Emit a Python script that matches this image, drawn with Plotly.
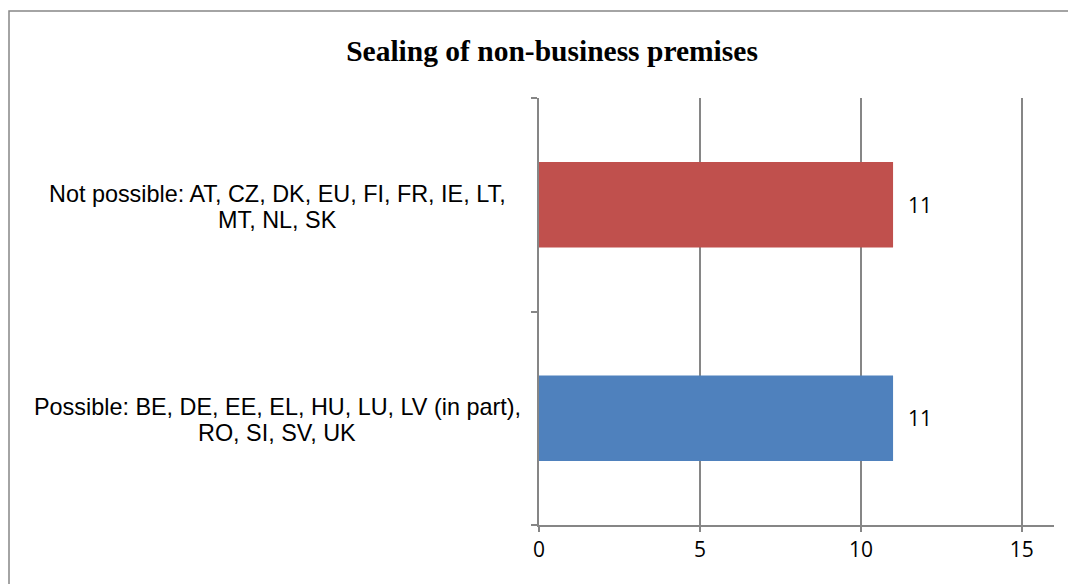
import plotly.graph_objects as go

# ── data ────────────────────────────────────────────────────────────────────
categories = [
    "Possible: BE, DE, EE, EL, HU, LU, LV (in part),<br>RO, SI, SV, UK",
    "Not possible: AT, CZ, DK, EU, FI, FR, IE, LT,<br>MT, NL, SK",
]
counts = [11, 11]
bar_colors = ["#4F81BD", "#C0504D"]
x_ticks = [0, 5, 10, 15]

# ── geometry (figure px) ────────────────────────────────────────────────────
W, H = 1076, 584
ML, MR, MT, MB = 531, 30, 90, 67
pw, ph = W - ML - MR, H - MT - MB
GREY = "#868686"

fig = go.Figure(
    go.Bar(
        x=counts,
        y=categories,
        orientation="h",
        marker=dict(color=bar_colors, line=dict(width=0)),
        width=0.4,
        hoverinfo="x+y",
    )
)

annotations = []
# category labels: every line centred, Excel style
for cat in categories:
    lines = cat.split("<br>")
    n = len(lines)
    for i, line in enumerate(lines):
        annotations.append(dict(
            x=(269 - ML) / pw, xref="paper", xanchor="center",
            y=cat, yref="y", yanchor="middle",
            yshift=(n - 1) * 13 - i * 26 - 2,
            text=line, showarrow=False,
            font=dict(family="Liberation Sans", size=23.4, color="#000000"),
        ))

# value labels
for cat, v in zip(categories, counts):
    annotations.append(dict(
        x=v, y=cat, xref="x", yref="y", xanchor="left", yanchor="middle",
        xshift=13, text=str(v), showarrow=False,
        font=dict(family="Open Sans", size=21, color="#000000"),
    ))

fig.update_layout(
    width=W, height=H,
    margin=dict(l=ML, r=MR, t=MT, b=MB),
    paper_bgcolor="white", plot_bgcolor="white",
    showlegend=False,
    title=dict(
        text="<b>Sealing of non-business premises</b>",
        x=544 / W, xanchor="center", y=1 - 43 / H, yanchor="middle",
        font=dict(family="Liberation Serif", size=29.5, color="#000000"),
    ),
    annotations=annotations,
    xaxis=dict(
        range=[0, 16], tickvals=x_ticks, ticktext=[str(t) for t in x_ticks],
        showgrid=True, gridcolor=GREY, gridwidth=1.5,
        showline=True, linecolor=GREY, linewidth=1.5,
        ticks="outside", ticklen=5, tickcolor=GREY, tickwidth=1.5,
        tickfont=dict(family="Open Sans", size=21, color="#000000"),
        zeroline=False, fixedrange=True,
    ),
    yaxis=dict(
        showticklabels=False,
        showline=True, linecolor=GREY, linewidth=1.5,
        ticks="outside", tickson="boundaries", ticklen=6,
        tickcolor=GREY, tickwidth=1.5,
        showgrid=False, fixedrange=True,
    ),
    shapes=[
        # chart-area border (runs off the right and bottom edges)
        dict(
            type="rect", xref="paper", yref="paper",
            x0=(1 - ML) / pw, x1=(W + 40 - ML) / pw,
            y0=-(MB + 40) / ph, y1=(MT + ph - 3) / ph,
            line=dict(color=GREY, width=1.5), layer="below",
        )
    ],
)

fig.write_html("out.html")
